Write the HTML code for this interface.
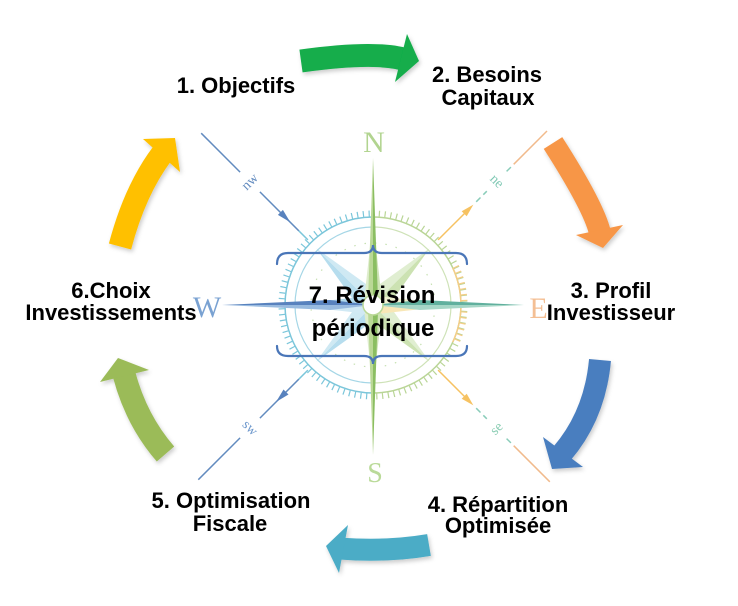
<!DOCTYPE html>
<html><head><meta charset="utf-8"><style>
html,body{margin:0;padding:0;background:#fff;}
svg{display:block;}
.lb{font-family:"Liberation Sans",Arial,sans-serif;font-weight:bold;font-size:22px;fill:#000;text-anchor:middle;}
.cl{font-family:"Liberation Serif",serif;text-anchor:middle;}
.dl{font-family:"Liberation Serif",serif;font-size:14px;text-anchor:middle;}
</style></head><body>
<svg width="738" height="606" viewBox="0 0 738 606" xmlns="http://www.w3.org/2000/svg">
<defs>
<filter id="sh" x="-30%" y="-30%" width="160%" height="160%"><feDropShadow dx="1.5" dy="2.5" stdDeviation="2" flood-color="#000" flood-opacity="0.2"/></filter>
</defs>
<rect width="738" height="606" fill="#fff"/>

<!-- ===== Compass ===== -->
<g opacity="0.8">
 <circle cx="373" cy="305" r="62" fill="none" stroke="#b9d9a0" stroke-width="1.2" stroke-dasharray="1.5 9"/>
 <polygon points="316.4,248.4 357,305 373,305" fill="#a5d5ea"/>
 <polygon points="316.4,248.4 373,305 373,289" fill="#c4e4f1"/>
 <polygon points="429.6,248.4 373,289 373,305" fill="#d9ebc6"/>
 <polygon points="429.6,248.4 373,305 389,305" fill="#c0dca0"/>
 <polygon points="429.6,361.6 389,305 373,305" fill="#d9ebc6"/>
 <polygon points="429.6,361.6 373,305 373,321" fill="#c0dca0"/>
 <polygon points="316.4,361.6 373,321 373,305" fill="#a5d5ea"/>
 <polygon points="316.4,361.6 373,305 357,305" fill="#c4e4f1"/>
 <polygon points="288,305 364.5,296.5 373,305" fill="#9fd0e8"/>
 <polygon points="288,305 373,305 364.5,313.5" fill="#c6e4f2"/>
 <polygon points="458,305 381.5,296.5 373,305" fill="#eef0c6"/>
 <polygon points="458,305 373,305 381.5,313.5" fill="#f7e2a6"/>
 <polygon points="373,220 364.5,296.5 373,305" fill="#d6e9c0"/>
 <polygon points="373,220 373,305 381.5,296.5" fill="#c2dda4"/>
 <polygon points="373,390 364.5,313.5 373,305" fill="#d6e9c0"/>
 <polygon points="373,390 373,305 381.5,313.5" fill="#c2dda4"/>

 <g fill="none" stroke-width="1.5">
  <path d="M285,305 A88,88 0 0 1 373,217" stroke="#5bb8d2"/>
  <path d="M373,217 A88,88 0 0 1 461,305" stroke="#a8cb7c"/>
  <path d="M461,305 A88,88 0 0 1 373,393" stroke="#a8cb7c"/>
  <path d="M373,393 A88,88 0 0 1 285,305" stroke="#5bb8d2"/>
  <path d="M452.7,267.8 A88,88 0 0 1 452.7,342.2" stroke="#f3c16a"/>
 </g>
 <g fill="none" stroke-width="6" stroke-dasharray="1.2 4.6">
  <path d="M281.5,305 A91.5,91.5 0 0 1 373,213.5" stroke="#5bb8d2"/>
  <path d="M373,213.5 A91.5,91.5 0 0 1 464.5,305" stroke="#a8cb7c"/>
  <path d="M464.5,305 A91.5,91.5 0 0 1 373,396.5" stroke="#a8cb7c"/>
  <path d="M373,396.5 A91.5,91.5 0 0 1 281.5,305" stroke="#5bb8d2"/>
  <path d="M455.9,266.3 A91.5,91.5 0 0 1 455.9,343.7" stroke="#f3c16a"/>
 </g>
 <g fill="none" stroke-width="1.2">
  <path d="M295,305 A78,78 0 0 1 373,227" stroke="#8fcde0"/>
  <path d="M373,227 A78,78 0 0 1 451,305" stroke="#c3dca6"/>
  <path d="M451,305 A78,78 0 0 1 373,383" stroke="#c3dca6"/>
  <path d="M373,383 A78,78 0 0 1 295,305" stroke="#8fcde0"/>
 </g>

 <polygon points="373,158 368,300 373,305" fill="#a9cf7c"/>
 <polygon points="373,158 373,305 378,300" fill="#6fae3c"/>
 <polygon points="373,455 368,310 373,305" fill="#a9cf7c"/>
 <polygon points="373,455 373,305 378,310" fill="#6fae3c"/>
 <polygon points="222,305 330,300 373,305" fill="#2f64ae"/>
 <polygon points="222,305 373,305 330,310" fill="#7faad8"/>
 <polygon points="524,305 420,300 373,305" fill="#3a9d86"/>
 <polygon points="524,305 373,305 420,310" fill="#8fcdb8"/>
 <circle cx="373" cy="305" r="10" fill="#fff" stroke="#a9cf7c" stroke-width="1.5"/>

 <g stroke-width="1.5" fill="none">
  <line x1="307.9" y1="239.9" x2="298.8" y2="230.8" stroke="#5bb8d2"/>
  <line x1="298.8" y1="230.8" x2="259.9" y2="191.9" stroke="#3c6fb0"/>
  <line x1="240.1" y1="172.1" x2="201.2" y2="133.2" stroke="#3c6fb0"/>

  <line x1="438.1" y1="239.9" x2="468.5" y2="209.5" stroke="#f5b43c"/>
  <line x1="476.2" y1="201.8" x2="480.5" y2="197.5" stroke="#6cc0a8"/>
  <line x1="483.3" y1="194.7" x2="486.8" y2="191.2" stroke="#6cc0a8"/>
  <line x1="506.6" y1="171.4" x2="510.9" y2="167.1" stroke="#6cc0a8"/>
  <line x1="513.7" y1="164.3" x2="547" y2="131" stroke="#eeaa70"/>

  <line x1="438.1" y1="370.1" x2="468.5" y2="400.5" stroke="#f5b43c"/>
  <line x1="476.2" y1="408.2" x2="480.5" y2="412.5" stroke="#6cc0a8"/>
  <line x1="483.3" y1="415.3" x2="486.8" y2="418.8" stroke="#6cc0a8"/>
  <line x1="506.6" y1="438.6" x2="510.9" y2="442.9" stroke="#6cc0a8"/>
  <line x1="513.7" y1="445.7" x2="549.8" y2="481.8" stroke="#eeaa70"/>

  <line x1="307.9" y1="370.1" x2="298.8" y2="379.2" stroke="#5bb8d2"/>
  <line x1="298.8" y1="379.2" x2="259.9" y2="418.1" stroke="#3c6fb0"/>
  <line x1="240.1" y1="437.9" x2="198.3" y2="479.7" stroke="#3c6fb0"/>
 </g>
 <polygon points="290.3,222.3 282.9,209.9 277.9,214.9" fill="#2f64ae"/>
 <polygon points="473.4,204.6 466.7,216.3 461.7,211.3" fill="#f5b43c"/>
 <polygon points="473.4,405.4 466.7,393.7 461.7,398.7" fill="#f5b43c"/>
 <polygon points="276.1,401.9 288.5,394.5 283.5,389.5" fill="#2f64ae"/>

 <g transform="translate(250,182) rotate(-45)"><text class="dl" x="0" y="4" fill="#3c6fb0">nw</text></g>
 <g transform="translate(496.7,181.3) rotate(45)"><text class="dl" x="0" y="4" fill="#5dbaa0">ne</text></g>
 <g transform="translate(496.7,428.7) rotate(-45)"><text class="dl" x="0" y="4" fill="#6cc0a0">se</text></g>
 <g transform="translate(250,428) rotate(45)"><text class="dl" x="0" y="4" fill="#4a7fc0">sw</text></g>

 <text class="cl" x="374" y="152" font-size="30" fill="#9fca75">N</text>
 <text class="cl" x="375" y="482" font-size="28" fill="#a9d280">S</text>
 <text class="cl" x="207" y="317" font-size="30" fill="#5a8cc8">W</text>
 <text class="cl" x="538.5" y="318" font-size="30" fill="#f2b07a">E</text>
</g>

<!-- ===== Curved arrows ===== -->
<g filter="url(#sh)">
 <path d="M301,61 Q373,51 403,59" fill="none" stroke="#12ad4b" stroke-width="23"/>
 <polygon points="407,34 419,61 395,82" fill="#12ad4b"/>
</g>
<g filter="url(#sh)">
 <path d="M553,143 Q594,207 600,233" fill="none" stroke="#f79646" stroke-width="22"/>
 <polygon points="576,235 603,248 623,225" fill="#f79646"/>
</g>
<g filter="url(#sh)">
 <path d="M600,360 Q595,415 562,453.5" fill="none" stroke="#4a7ebf" stroke-width="22"/>
 <polygon points="543,437 552,469 583,467" fill="#4a7ebf"/>
</g>
<g filter="url(#sh)">
 <path d="M429,545 Q388,552 341.5,548.7" fill="none" stroke="#4bacc6" stroke-width="22"/>
 <polygon points="348,525 326,546 339,573" fill="#4bacc6"/>
</g>
<g filter="url(#sh)">
 <path d="M165.5,454 Q136,420 124,374" fill="none" stroke="#9bbb59" stroke-width="23"/>
 <polygon points="100,382 118,358 149,370" fill="#9bbb59"/>
</g>
<g filter="url(#sh)">
 <path d="M120,246.5 Q135,190 162,154" fill="none" stroke="#ffc000" stroke-width="23"/>
 <polygon points="143,139 175,138 180,172" fill="#ffc000"/>
</g>

<!-- ===== Center braces ===== -->
<g fill="none" stroke="#4a76b8" stroke-width="2.2" stroke-linecap="round">
 <path d="M277,264 Q277,253 288,253 L364,253 Q373,253 373,245 Q373,253 382,253 L456,253 Q467,253 467,264"/>
 <path d="M277,346 Q277,356 288,356 L364,356 Q373,356 373,364 Q373,356 382,356 L456,356 Q467,356 467,346"/>
</g>

<!-- ===== Labels ===== -->
<text class="lb" x="236" y="93">1. Objectifs</text>
<text class="lb" x="487" y="82">2. Besoins</text>
<text class="lb" x="488" y="105">Capitaux</text>
<text class="lb" x="611" y="298">3. Profil</text>
<text class="lb" x="611" y="320">Investisseur</text>
<text class="lb" x="498" y="512">4. Répartition</text>
<text class="lb" x="498" y="533">Optimisée</text>
<text class="lb" x="231" y="508">5. Optimisation</text>
<text class="lb" x="230" y="531">Fiscale</text>
<text class="lb" x="111" y="298">6.Choix</text>
<text class="lb" x="111" y="320">Investissements</text>
<text class="lb" x="372" y="303" style="font-size:24px">7. Révision</text>
<text class="lb" x="373" y="336" style="font-size:24px">périodique</text>
</svg>
</body></html>
